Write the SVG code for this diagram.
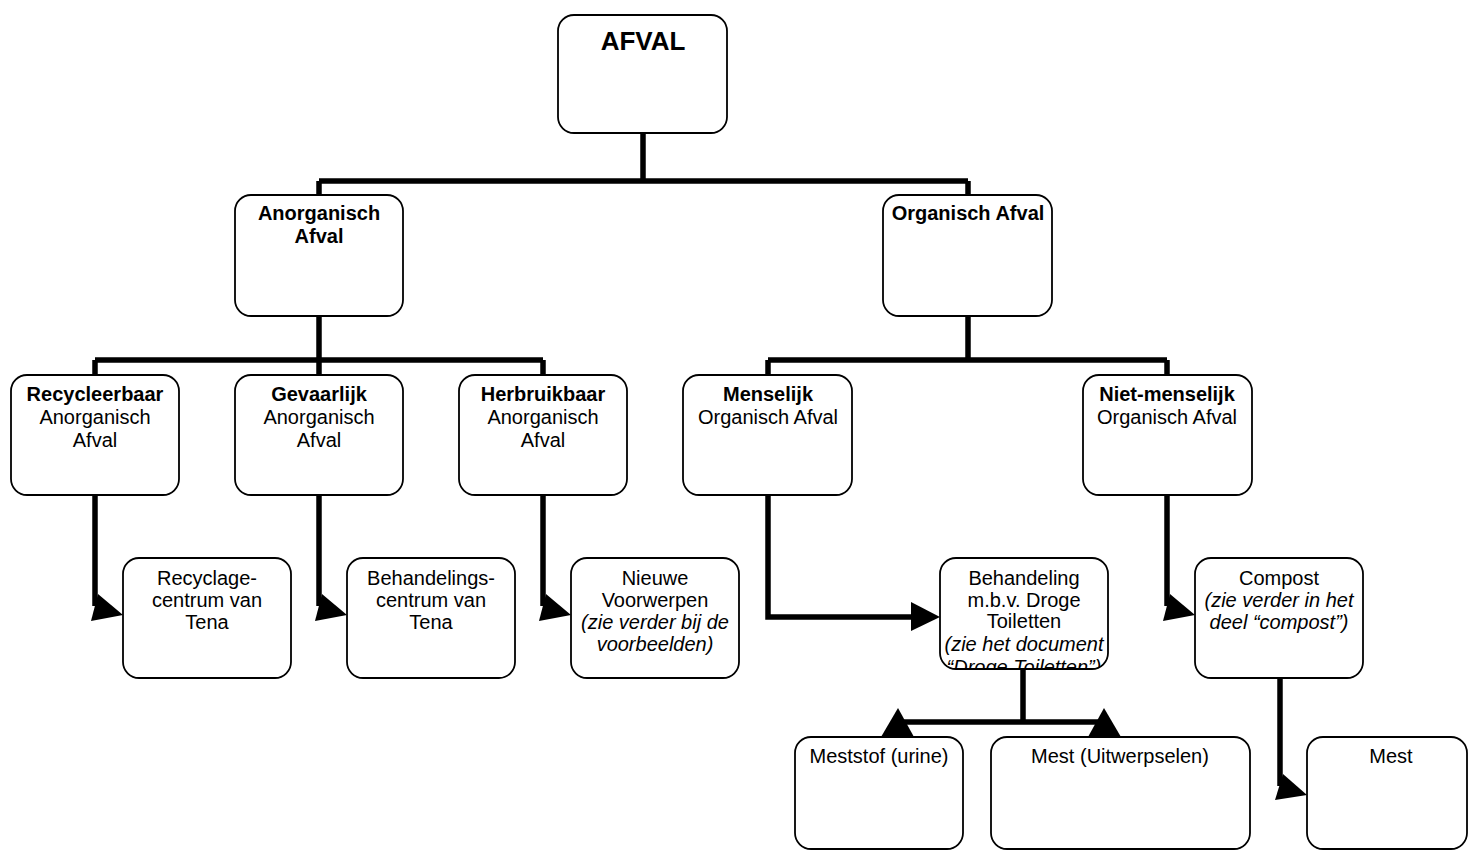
<svg xmlns="http://www.w3.org/2000/svg" width="1469" height="851" viewBox="0 0 1469 851">
<style>
.box{fill:#fff;stroke:#000;stroke-width:1.8}
text{font-family:"Liberation Sans",Arial,sans-serif;font-size:20px;fill:#000;text-anchor:middle}
.b{font-weight:bold}
.i{font-style:italic}
.ln{fill:none;stroke:#000;stroke-width:5.5;stroke-linejoin:miter}
.ah{fill:#000;stroke:none}
</style>
<defs>
<clipPath id="clipBeh"><rect x="940" y="558" width="168" height="111" rx="15"/></clipPath>
</defs>
<rect width="1469" height="851" fill="#fff"/>
<g id="connectors">
<path class="ln" d="M643,133 V181 M319,181 H968 M319,181 V195 M968,181 V195"/>
<path class="ln" d="M319,316 V360 M95,360 H543 M95,360 V375 M319,360 V375 M543,360 V375"/>
<path class="ln" d="M968,316 V360 M768,360 H1167 M768,360 V375 M1167,360 V375"/>
<path class="ln" d="M95,495 V606"/>
<polygon class="ah" points="98,594 123,615 91,621"/>
<path class="ln" d="M319,495 V606"/>
<polygon class="ah" points="322,594 347,615 315,621"/>
<path class="ln" d="M543,495 V606"/>
<polygon class="ah" points="546,594 571,615 539,621"/>
<path class="ln" d="M1167,495 V606"/>
<polygon class="ah" points="1170,594 1195,615 1163,621"/>
<path class="ln" d="M1280,678 V786"/>
<polygon class="ah" points="1283,774 1307,795 1275,800"/>
<path class="ln" d="M768,495 V617 H912"/>
<polygon class="ah" points="911,602 940,617 911,631"/>
<path class="ln" d="M1023,669 V722 M898,722 H1104"/>
<polygon class="ah" points="898,708 881,737 914,737"/>
<polygon class="ah" points="1104,708 1088,737 1121,737"/>
</g>
<g id="afval">
<rect class="box" x="558" y="15" width="169" height="118" rx="16"/>
<text class="b" x="643" y="50" style="font-size:26px">AFVAL</text>
</g>
<g id="anorganisch">
<rect class="box" x="235" y="195" width="168" height="121" rx="16"/>
<text class="b" x="319" y="220">Anorganisch</text>
<text class="b" x="319" y="243">Afval</text>
</g>
<g id="organisch">
<rect class="box" x="883" y="195" width="169" height="121" rx="16"/>
<text class="b" x="968" y="220">Organisch Afval</text>
</g>
<g id="recycleerbaar">
<rect class="box" x="11" y="375" width="168" height="120" rx="16"/>
<text class="b" x="95" y="401">Recycleerbaar</text>
<text x="95" y="424">Anorganisch</text>
<text x="95" y="447">Afval</text>
</g>
<g id="gevaarlijk">
<rect class="box" x="235" y="375" width="168" height="120" rx="16"/>
<text class="b" x="319" y="401">Gevaarlijk</text>
<text x="319" y="424">Anorganisch</text>
<text x="319" y="447">Afval</text>
</g>
<g id="herbruikbaar">
<rect class="box" x="459" y="375" width="168" height="120" rx="16"/>
<text class="b" x="543" y="401">Herbruikbaar</text>
<text x="543" y="424">Anorganisch</text>
<text x="543" y="447">Afval</text>
</g>
<g id="menselijk">
<rect class="box" x="683" y="375" width="169" height="120" rx="16"/>
<text class="b" x="768" y="401">Menselijk</text>
<text x="768" y="424">Organisch Afval</text>
</g>
<g id="niet-menselijk">
<rect class="box" x="1083" y="375" width="169" height="120" rx="16"/>
<text class="b" x="1167" y="401">Niet-menselijk</text>
<text x="1167" y="424">Organisch Afval</text>
</g>
<g id="recyclagecentrum">
<rect class="box" x="123" y="558" width="168" height="120" rx="16"/>
<text x="207" y="585">Recyclage-</text>
<text x="207" y="607">centrum van</text>
<text x="207" y="629">Tena</text>
</g>
<g id="behandelingscentrum">
<rect class="box" x="347" y="558" width="168" height="120" rx="16"/>
<text x="431" y="585">Behandelings-</text>
<text x="431" y="607">centrum van</text>
<text x="431" y="629">Tena</text>
</g>
<g id="nieuwe-voorwerpen">
<rect class="box" x="571" y="558" width="168" height="120" rx="16"/>
<text x="655" y="585">Nieuwe</text>
<text x="655" y="607">Voorwerpen</text>
<text class="i" x="655" y="629">(zie verder bij de</text>
<text class="i" x="655" y="651">voorbeelden)</text>
</g>
<g id="behandeling">
<rect class="box" x="940" y="558" width="168" height="111" rx="16"/>
<g clip-path="url(#clipBeh)">
<text x="1024" y="585">Behandeling</text>
<text x="1024" y="607">m.b.v. Droge</text>
<text x="1024" y="628">Toiletten</text>
<text class="i" x="1024" y="651">(zie het document</text>
<text class="i" x="1024" y="674">“Droge Toiletten”)</text>
</g>
</g>
<g id="compost">
<rect class="box" x="1195" y="558" width="168" height="120" rx="16"/>
<text x="1279" y="585">Compost</text>
<text class="i" x="1279" y="607">(zie verder in het</text>
<text class="i" x="1279" y="629">deel “compost”)</text>
</g>
<g id="meststof">
<rect class="box" x="795" y="737" width="168" height="112" rx="16"/>
<text x="879" y="763">Meststof (urine)</text>
</g>
<g id="mest-uitwerpselen">
<rect class="box" x="991" y="737" width="259" height="112" rx="16"/>
<text x="1120" y="763">Mest (Uitwerpselen)</text>
</g>
<g id="mest">
<rect class="box" x="1307" y="737" width="160" height="112" rx="16"/>
<text x="1391" y="763">Mest</text>
</g>
</svg>
